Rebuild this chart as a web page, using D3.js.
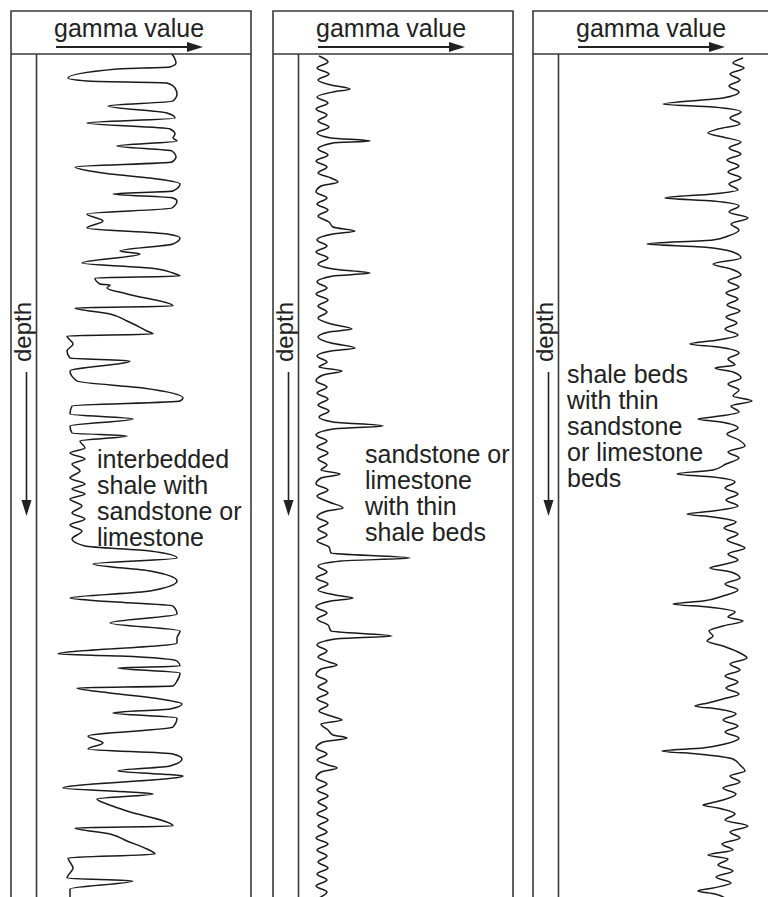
<!DOCTYPE html>
<html>
<head>
<meta charset="utf-8">
<script src="https://cdn.jsdelivr.net/npm/d3@7"></script>
<style>
  body { margin: 0; background: #fff; }
  svg text { font-family: "Liberation Sans", Arial, sans-serif; fill: #222; }
</style>
</head>
<body>
<div id="chart"></div>
<script>
// gamma ray logs, depth in px-like units from top of log, gamma in relative units
var depth1 = [0,5,9,13,15,24,27,29,34,40,47,52,59,64,69,75,80,84,87,92,97,103,108,113,117,120,124,130,137,140,144,147,154,160,167,174,180,184,190,197,200,209,214,219,222,224,230,231,234,240,252,254,260,267,277,280,282,290,297,304,307,317,327,334,344,347,352,360,365,372,379,382,387,394,399,405,410,417,424,430,435,440,445,452,459,465,471,477,485,492,497,504,510,517,527,537,544,547,552,560,569,577,584,589,600,602,607,612,614,619,627,632,634,639,645,650,655,659,664,673,682,689,695,700,705,712,717,720,722,734,738,740,745,750,757,772,774,780,787,795,800,804,814,824,827,835,844];
var gamma1 = [121,124,125,119,66,17,36,116,124,126,122,57,116,124,36,119,124,122,126,66,121,125,121,24,39,59,99,129,122,62,122,126,121,36,52,36,116,129,122,69,89,31,99,122,129,44,49,59,56,76,122,24,59,76,96,102,16,22,16,19,79,19,26,92,132,129,21,19,82,19,21,76,29,34,19,34,21,29,19,34,21,34,19,31,21,34,19,31,21,34,99,126,42,99,126,99,19,49,122,126,59,129,126,126,7,69,126,129,67,129,126,122,26,59,109,131,119,62,126,122,37,52,37,122,131,119,67,109,132,12,79,102,46,56,76,122,24,59,76,96,104,17,22,16,82,19,19];

var depth2 = [2,8,14,20,26,31,35,38,43,49,55,61,67,73,79,84,87,89,95,101,107,113,119,124,128,132,138,144,150,156,162,168,173,177,180,186,192,198,204,210,215,219,222,228,234,240,246,252,258,264,270,275,278,283,289,294,297,302,308,313,317,321,327,333,339,345,351,357,363,368,372,375,381,387,393,399,405,411,416,420,424,430,436,442,448,454,457,463,469,475,481,487,493,499,504,507,512,518,524,530,536,541,544,547,553,559,565,571,577,582,585,591,597,603,608,611,615,621,627,633,639,645,651,657,662,666,670,676,681,684,688,694,700,706,711,714,718,724,730,736,742,748,754,760,766,772,778,784,790,796,802,808,814,820,826,832,838,844];
var gamma2 = [6,15,4,16,5,18,37,20,4,15,3,14,5,16,4,18,57,20,5,15,3,14,5,18,25,8,3,14,4,15,5,16,20,42,20,4,14,3,15,5,20,57,20,4,14,3,15,5,14,5,18,39,16,5,18,42,18,4,14,6,29,10,3,14,4,15,5,16,6,20,70,20,3,14,4,15,5,14,8,27,8,3,15,4,16,30,14,4,15,5,14,4,16,18,97,28,5,14,3,15,5,22,40,18,3,14,4,15,18,79,22,4,14,5,16,24,8,3,14,5,15,4,15,6,18,29,8,15,20,34,10,3,14,4,15,24,8,3,14,4,15,5,14,4,15,5,14,3,15,4,14,5,15,4,14,3,14,6];

var depth3 = [4,9,14,20,26,32,38,44,50,53,58,64,70,75,79,83,88,94,100,106,112,118,124,130,136,140,144,147,152,158,164,170,176,182,186,190,193,198,204,210,215,221,227,233,239,245,251,257,263,269,275,281,286,290,293,299,305,311,314,318,324,330,336,342,347,352,358,363,365,368,374,380,386,392,398,404,410,416,420,423,428,434,440,446,452,457,460,463,468,474,480,486,491,494,500,506,511,514,518,524,530,536,542,547,550,553,558,563,567,572,577,582,587,592,598,604,610,616,622,628,634,640,645,649,652,655,660,666,672,678,684,690,694,697,700,705,711,717,722,728,734,740,746,749,751,754,760,766,772,778,784,790,796,801,805,811,817,823,829,834,837,840,844];
var gamma3 = [170,160,171,157,167,156,166,150,90,140,168,157,167,145,135,150,168,156,168,154,166,155,168,156,165,140,92,140,166,156,175,158,166,155,140,74,130,160,168,140,158,168,155,166,153,165,154,167,153,164,152,165,145,117,145,166,155,162,142,160,168,155,166,160,179,158,166,140,125,148,165,154,166,172,155,166,153,140,104,140,162,152,165,153,165,140,114,140,163,151,165,154,166,172,155,165,148,137,158,167,152,165,150,130,100,135,162,155,170,150,136,140,134,150,165,174,157,167,152,165,153,166,150,135,122,145,163,150,165,152,166,152,130,89,125,160,167,172,157,167,150,163,150,138,130,145,162,152,175,157,167,149,160,135,155,145,160,143,158,140,125,142,152];

var panelLeft = [11, 273, 533];
var titles = ["gamma value", "gamma value", "gamma value"];
var axisLabels = ["depth", "depth", "depth"];
var notes = [
  ["interbedded", "shale with", "sandstone or", "limestone"],
  ["sandstone or", "limestone", "with thin", "shale beds"],
  ["shale beds", "with thin", "sandstone", "or limestone", "beds"]
];
var noteAt = [[86, 468], [92, 463], [34, 383]];

var width = 768, height = 897;
var panelW = 240, frameTop = 11, headerY = 54;
var logs = [[depth1, gamma1], [depth2, gamma2], [depth3, gamma3]];

var svg = d3.select('#chart')
  .append('svg')
  .attr('width', width)
  .attr('height', height);

var y = d3.scaleLinear().domain([0, 844]).range([54, 898]);

panelLeft.forEach(function(left, i) {
  var g = svg.append('g');
  var frame = '#3a3a3a';

  // frame (open at the bottom, the logs run off the page)
  g.append('path')
    .attr('d', 'M' + left + ',' + height + 'V' + frameTop + 'H' + (left + panelW) + 'V' + height)
    .attr('fill', 'none').attr('stroke', frame).attr('stroke-width', 1.6);
  g.append('line')
    .attr('x1', left).attr('x2', left + panelW)
    .attr('y1', headerY).attr('y2', headerY)
    .attr('stroke', frame).attr('stroke-width', 1.6);

  // header
  g.append('text')
    .attr('x', left + 43).attr('y', 36.5)
    .attr('font-size', 25)
    .text(titles[i]);
  g.append('line')
    .attr('x1', left + 45).attr('x2', left + 178)
    .attr('y1', 47).attr('y2', 47)
    .attr('stroke', '#222').attr('stroke-width', 2);
  g.append('path')
    .attr('d', 'M' + (left + 192) + ',47L' + (left + 176) + ',42L' + (left + 176) + ',52Z')
    .attr('fill', '#222');

  // depth axis
  g.append('line')
    .attr('x1', left + 25.5).attr('x2', left + 25.5)
    .attr('y1', headerY).attr('y2', height)
    .attr('stroke', frame).attr('stroke-width', 1.6);
  g.append('text')
    .attr('transform', 'translate(' + (left + 20) + ',362) rotate(-90)')
    .attr('font-size', 24)
    .text(axisLabels[i]);
  g.append('line')
    .attr('x1', left + 15.5).attr('x2', left + 15.5)
    .attr('y1', 372).attr('y2', 502)
    .attr('stroke', '#222').attr('stroke-width', 1.6);
  g.append('path')
    .attr('d', 'M' + (left + 15.5) + ',516L' + (left + 10.5) + ',500L' + (left + 20.5) + ',500Z')
    .attr('fill', '#222');

  // log curve, smooth in depth
  var x = d3.scaleLinear().domain([0, 200]).range([left + 40, left + 240]);
  var pts = logs[i][0].map(function(d, j) { return { d: d, g: logs[i][1][j] }; });
  var line = d3.line()
    .x(function(d) { return x(d.g); })
    .y(function(d) { return y(d.d); })
    .curve(d3.curveMonotoneY);
  g.append('path')
    .datum(pts)
    .attr('d', line)
    .attr('fill', 'none')
    .attr('stroke', '#1a1a1a')
    .attr('stroke-width', 1.5)
    .attr('stroke-linejoin', 'round');

  // note
  var t = g.append('text')
    .attr('x', left + noteAt[i][0]).attr('y', noteAt[i][1])
    .attr('font-size', 25);
  t.selectAll('tspan')
    .data(notes[i])
    .enter()
    .append('tspan')
    .attr('x', left + noteAt[i][0])
    .attr('dy', function(d, k) { return k === 0 ? 0 : 26; })
    .text(function(d) { return d; });
});
</script>
</body>
</html>
